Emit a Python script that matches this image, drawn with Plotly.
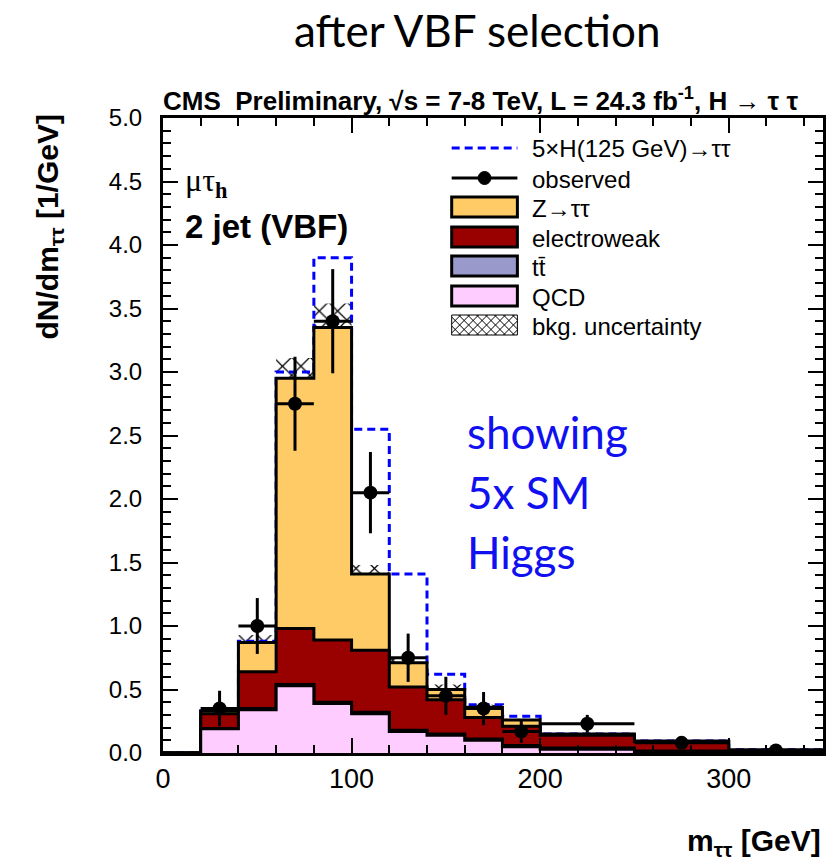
import numpy as np
import plotly.graph_objects as go

# ---------------- data ----------------
bin_edges = [0, 20, 40, 60, 80, 100, 120, 140, 160, 180, 200, 250, 300, 350]
qcd      = [0, 0.19, 0.34, 0.53, 0.39, 0.31, 0.17, 0.14, 0.10, 0.05, 0.03, 0.01, 0.0]
ttbar    = [0, 0.00, 0.01, 0.01, 0.01, 0.01, 0.01, 0.01, 0.01, 0.01, 0.01, 0.005, 0.0]
ewk      = [0, 0.12, 0.29, 0.44, 0.49, 0.49, 0.34, 0.27, 0.17, 0.15, 0.10, 0.075, 0.02]
ztt      = [0, 0.02, 0.23, 1.97, 2.46, 0.60, 0.19, 0.08, 0.08, 0.05, 0.01, 0.005, 0.005]
bkg_unc  = [0, 0.03, 0.06, 0.16, 0.19, 0.07, 0.04, 0.04, 0.02, 0.01, 0.01, 0.005, 0.005]
higgs_5x = [0, 0.0, 0.01, 0.05, 0.55, 1.14, 0.70, 0.12, 0.02, 0.03, 0.0, 0.0, 0.0]

data_x    = [30, 50, 70, 90, 110, 130, 150, 170, 190, 225, 275, 325]
data_y    = [0.35, 1.00, 2.75, 3.40, 2.05, 0.75, 0.45, 0.35, 0.17, 0.23, 0.08, 0.02]
data_err  = [0.14, 0.22, 0.37, 0.41, 0.32, 0.19, 0.15, 0.13, 0.09, 0.07, 0.04, 0.02]
data_xerr = [10, 10, 10, 10, 10, 10, 10, 10, 10, 25, 25, 25]

legend_labels = ["5×H(125 GeV)→ττ", "observed", "Z→ττ", "electroweak", "tt̄", "QCD", "bkg. uncertainty"]

# ---------------- derived ----------------
edges = np.array(bin_edges, dtype=float)
centers = 0.5 * (edges[:-1] + edges[1:])
widths = np.diff(edges)
c_qcd = np.array(qcd)
c_tt = c_qcd + np.array(ttbar)
c_ewk = c_tt + np.array(ewk)
c_z = c_ewk + np.array(ztt)
unc = np.array(bkg_unc)
c_sig = c_z + np.array(higgs_5x)


def step(vals):
    v = list(vals)
    return v + [v[-1]]


C_Z = "#FECB66"
C_EWK = "#990000"
C_TT = "#9999CC"
C_QCD = "#FFCCFF"
C_SIG = "#0000FF"

fig = go.Figure()

# signal (drawn first, beneath the stack outlines)
fig.add_trace(go.Scatter(
    x=edges, y=step(c_sig), mode="lines",
    line=dict(shape="hv", color=C_SIG, width=3, dash="8px,5px"),
    name=legend_labels[0], showlegend=False))

for cum, col, nm in [(c_z, C_Z, legend_labels[2]), (c_ewk, C_EWK, legend_labels[3]),
                     (c_tt, C_TT, legend_labels[4]), (c_qcd, C_QCD, legend_labels[5])]:
    fig.add_trace(go.Scatter(
        x=edges, y=step(cum), mode="lines", line=dict(shape="hv", color="black", width=3),
        fill="tozeroy", fillcolor=col, name=nm, showlegend=False))

# background uncertainty (hatched)
fig.add_trace(go.Bar(
    x=centers, y=2 * unc, base=c_z - unc, width=widths,
    marker=dict(color="rgba(0,0,0,0)", line=dict(width=0),
                pattern=dict(shape="x", fgcolor="black", bgcolor="rgba(0,0,0,0)",
                             size=13, solidity=0.18, fgopacity=1)),
    name=legend_labels[6], showlegend=False))

# observed
fig.add_trace(go.Scatter(
    x=data_x, y=data_y, mode="markers",
    marker=dict(color="black", size=14, symbol="circle"),
    error_y=dict(type="data", array=data_err, color="black", thickness=3, width=0),
    error_x=dict(type="data", array=data_xerr, color="black", thickness=3, width=0),
    name=legend_labels[1], showlegend=False))

fig.update_layout(
    width=832, height=865,
    margin=dict(l=163, r=6, t=118, b=112),
    paper_bgcolor="white", plot_bgcolor="white",
    barmode="overlay",
    showlegend=False,
    xaxis=dict(range=[0, 350], showgrid=False, zeroline=False,
               showline=True, linecolor="black", linewidth=3, mirror="ticks",
               ticks="inside", ticklen=15, tickwidth=2, tickcolor="black",
               dtick=100, tick0=0, ticklabelstandoff=0,
               tickfont=dict(family="Liberation Sans, Arial", size=27, color="black"),
               minor=dict(dtick=20, ticks="inside", ticklen=8, tickwidth=2, tickcolor="black")),
    yaxis=dict(range=[0, 5], showgrid=False, zeroline=False,
               showline=True, linecolor="black", linewidth=3, mirror="ticks",
               ticks="inside", ticklen=15, tickwidth=2, tickcolor="black",
               dtick=0.5, tick0=0, tickformat=".1f", ticklabelstandoff=13,
               tickfont=dict(family="Liberation Sans, Arial", size=24, color="black"),
               minor=dict(dtick=0.1, ticks="inside", ticklen=8, tickwidth=2, tickcolor="black")),
)

PL, PR, PT, PB = 163.0, 826.0, 118.0, 753.0


def px2paper(px, py):
    return (px - PL) / (PR - PL), (PB - py) / (PB - PT)


def add_text(text, px, py, size, family, xanchor="left", yanchor="middle", color="black", angle=0):
    x, y = px2paper(px, py)
    fig.add_annotation(text=text, x=x, y=y, xref="paper", yref="paper", showarrow=False,
                       xanchor=xanchor, yanchor=yanchor, textangle=angle,
                       font=dict(family=family, size=size, color=color))


def add_rect(x0, y0, x1, y1, fill, lw, lc="black"):
    a, b = px2paper(x0, y1)
    c, d = px2paper(x1, y0)
    fig.add_shape(type="rect", xref="paper", yref="paper", x0=a, y0=b, x1=c, y1=d,
                  fillcolor=fill, line=dict(color=lc, width=lw), layer="above")


def add_line(x0, y0, x1, y1, color, lw, dash="solid"):
    a, b = px2paper(x0, y0)
    c, d = px2paper(x1, y1)
    fig.add_shape(type="line", xref="paper", yref="paper", x0=a, y0=b, x1=c, y1=d,
                  line=dict(color=color, width=lw, dash=dash), layer="above")


# ---------------- texts ----------------
add_text("after VBF selection", 478, 30, 44, "Lato, Open Sans", xanchor="center")
add_text("<b>CMS  Preliminary, √s = 7-8 TeV, L = 24.3 fb<sup>-1</sup>, H → τ τ</b>", 161, 100, 26,
         "Liberation Sans Narrow, Liberation Sans, Arial")
add_text("μτ<sub><b>h</b></sub>", 183, 182, 32, "Liberation Serif, DejaVu Serif")
add_text("<b>2 jet (VBF)</b>", 183, 226, 33, "Liberation Sans, Arial")
add_text("showing", 466, 432, 44, "Lato, Open Sans", color="#1010F0")
add_text("5x SM", 466, 492, 44, "Lato, Open Sans", color="#1010F0")
add_text("Higgs", 466, 552, 44, "Lato, Open Sans", color="#1010F0")
add_text("<b>dN/dm<sub>ττ</sub> [1/GeV]</b>", 48, 227, 30, "Liberation Sans, Arial",
         xanchor="center", angle=-90)
add_text("<b>m<sub>ττ</sub> [GeV]</b>", 826, 842, 30, "Liberation Sans, Arial", xanchor="right")

# ---------------- legend (drawn by hand, ROOT style) ----------------
LX0, LX1, TX = 453, 519, 532
rows = [148, 178, 207, 237, 266, 296, 325]
leg_font = "Liberation Sans, Arial"
for lab, ry in zip(legend_labels, rows):
    add_text(lab, TX, ry + 1, 24, leg_font)

add_line(LX0, rows[0], LX1, rows[0], C_SIG, 3, dash="8px,5px")
add_line(LX0, rows[1], LX1, rows[1], "black", 3)
cx, cy = 0.5 * (LX0 + LX1), rows[1]
a, b = px2paper(cx - 6.5, cy + 6.5)
c, d = px2paper(cx + 6.5, cy - 6.5)
fig.add_shape(type="circle", xref="paper", yref="paper", x0=a, y0=b, x1=c, y1=d,
              fillcolor="black", line=dict(color="black", width=1), layer="above")
for col, ry in zip([C_Z, C_EWK, C_TT, C_QCD], rows[2:6]):
    add_rect(LX0, ry - 10, LX1, ry + 10, col, 3)

# hatched box for uncertainty
hy0, hy1 = rows[6] - 10, rows[6] + 10
segs = []
sp = 9.0
W = LX1 - LX0
H = hy1 - hy0
c0 = -H
while c0 < W:
    xs, xe = max(c0, 0), min(c0 + H, W)
    if xe > xs:
        segs.append(((LX0 + xs, hy0 + xs - c0), (LX0 + xe, hy0 + xe - c0)))
        segs.append(((LX0 + xs, hy1 - (xs - c0)), (LX0 + xe, hy1 - (xe - c0))))
    c0 += sp
path = ""
for (p0, p1) in segs:
    a, b = px2paper(*p0)
    c, d = px2paper(*p1)
    path += f"M{a:.5f},{b:.5f}L{c:.5f},{d:.5f}"
fig.add_shape(type="path", xref="paper", yref="paper", path=path,
              line=dict(color="black", width=1), layer="above")
add_rect(LX0, hy0, LX1, hy1, "rgba(0,0,0,0)", 1)

fig.write_html("out.html")
